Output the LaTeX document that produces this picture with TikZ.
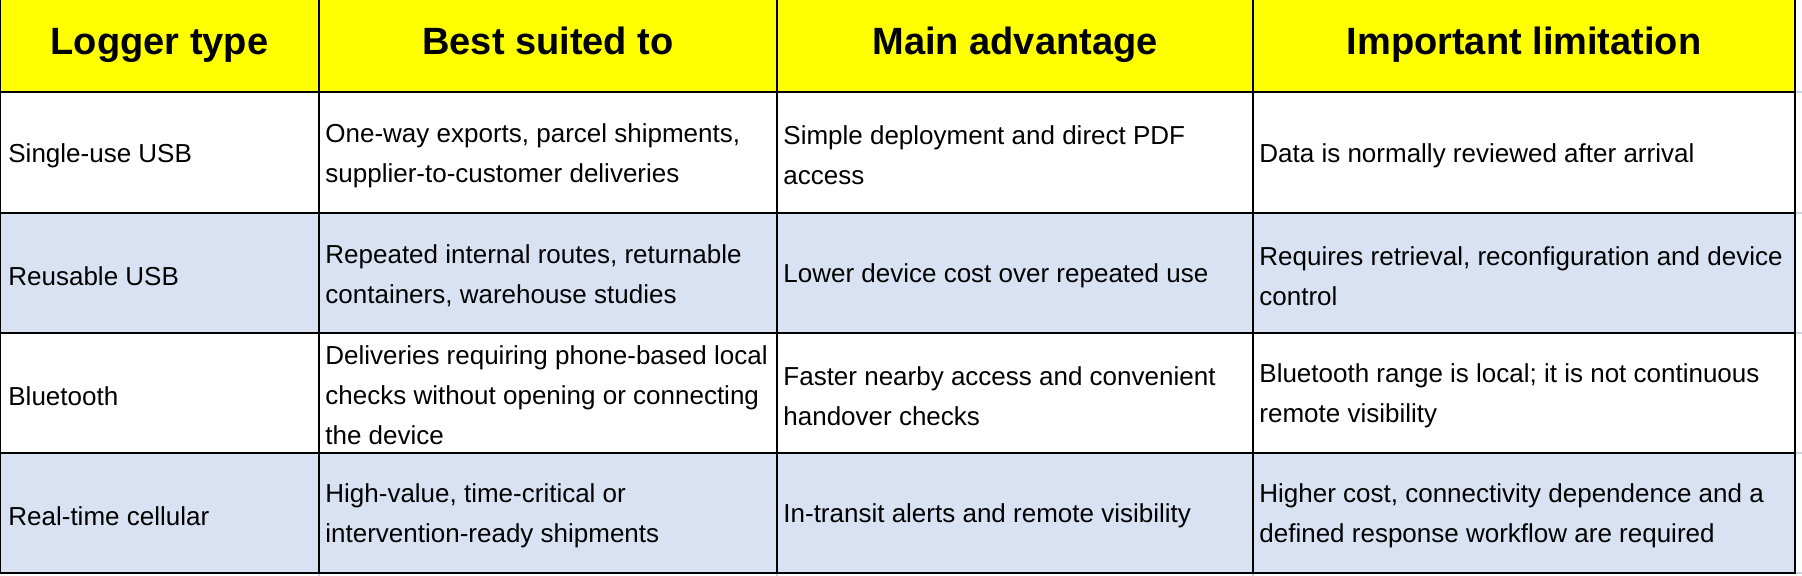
\documentclass[tikz,border=0pt]{standalone}
\usepackage{fontspec}
\setmainfont{Liberation Sans}
\definecolor{hdrfill}{HTML}{FFFF00}
\definecolor{bandfill}{HTML}{D9E2F3}
\definecolor{xlgrid}{HTML}{C9D3E6}
\begin{document}
\begin{tikzpicture}[x=0.5pt,y=-0.5pt,
  cellbox/.style={inner sep=0pt, outer sep=0pt, anchor=north west, draw=none},
  hdrcell/.style={cellbox, fill=hdrfill, minimum height=46pt},
  whitecell/.style={cellbox, fill=white},
  bandcell/.style={cellbox, fill=bandfill},
  rowA/.style={minimum height=60.5pt},
  rowB/.style={minimum height=60pt},
  colA/.style={minimum width=159.5pt},
  colB/.style={minimum width=229pt},
  colC/.style={minimum width=238pt},
  colD/.style={minimum width=271pt},
  hdrtext/.style={font=\fontsize{19}{22}\selectfont\bfseries, inner sep=0pt, anchor=base},
  bodytext/.style={font=\fontsize{13}{20}\selectfont, align=left, inner sep=0pt, anchor=west},
  tableline/.style={line width=1.25pt, black, line cap=rect},
  xlline/.style={line width=0.75pt, xlgrid}
]
\useasboundingbox[fill=white] (0,0) rectangle (1802,576);

% header cells
\node[hdrcell, colA] (h1) at (0,0) {};
\node[hdrcell, colB] (h2) at (319,0) {};
\node[hdrcell, colC] (h3) at (777,0) {};
\node[hdrcell, colD] (h4) at (1253,0) {};
% row 1
\node[whitecell, rowA, colA] (r11) at (0,92) {};
\node[whitecell, rowA, colB] (r12) at (319,92) {};
\node[whitecell, rowA, colC] (r13) at (777,92) {};
\node[whitecell, rowA, colD] (r14) at (1253,92) {};
% row 2
\node[bandcell, rowB, colA] (r21) at (0,213) {};
\node[bandcell, rowB, colB] (r22) at (319,213) {};
\node[bandcell, rowB, colC] (r23) at (777,213) {};
\node[bandcell, rowB, colD] (r24) at (1253,213) {};
% row 3
\node[whitecell, rowB, colA] (r31) at (0,333) {};
\node[whitecell, rowB, colB] (r32) at (319,333) {};
\node[whitecell, rowB, colC] (r33) at (777,333) {};
\node[whitecell, rowB, colD] (r34) at (1253,333) {};
% row 4
\node[bandcell, rowB, colA] (r41) at (0,453) {};
\node[bandcell, rowB, colB] (r42) at (319,453) {};
\node[bandcell, rowB, colC] (r43) at (777,453) {};
\node[bandcell, rowB, colD] (r44) at (1253,453) {};

% spreadsheet gridlines outside the table
\draw[xlline] (h4.south east) -- ++(10,0);
\draw[xlline] (r14.south east) -- ++(10,0);
\draw[xlline] (r24.south east) -- ++(10,0);
\draw[xlline] (r34.south east) -- ++(10,0);
\draw[xlline] (r44.south east) -- ++(10,0);
\draw[xlline] (r42.south west) -- ++(0,6);
\draw[xlline] (r43.south west) -- ++(0,6);
\draw[xlline] (r44.south west) -- ++(0,6);

% table rules
\draw[tableline] (h1.south west) -- (h4.south east);
\draw[tableline] (r11.south west) -- (r14.south east);
\draw[tableline] (r21.south west) -- (r24.south east);
\draw[tableline] (r31.south west) -- (r34.south east);
\draw[tableline] (r41.south west) -- (r44.south east);
\draw[tableline] (h1.north west) -- (r41.south west);
\draw[tableline] (h2.north west) -- (r42.south west);
\draw[tableline] (h3.north west) -- (r43.south west);
\draw[tableline] (h4.north west) -- (r44.south west);
\draw[tableline] (h4.north east) -- (r44.south east);

% header texts (common baseline)
\node[hdrtext] (th1) at (h1.north |- 0,55) {Logger type};
\node[hdrtext] (th2) at (h2.north |- 0,55) {Best suited to};
\node[hdrtext] (th3) at (h3.north |- 0,55) {Main advantage};
\node[hdrtext] (th4) at (h4.north |- 0,55) {Important limitation};

% body texts
\node[bodytext] (t11) at ([xshift=4pt,yshift=-1.5pt]r11.west) {Single-use USB};
\node[bodytext] (t12) at ([xshift=3pt,yshift=-1.5pt]r12.west) {One-way exports, parcel shipments,\\supplier-to-customer deliveries};
\node[bodytext] (t13) at ([xshift=3pt,yshift=-1.5pt]r13.west) {Simple deployment and direct PDF\\access};
\node[bodytext] (t14) at ([xshift=3pt,yshift=-1.5pt]r14.west) {Data is normally reviewed after arrival};

\node[bodytext] (t21) at ([xshift=4pt,yshift=-1.5pt]r21.west) {Reusable USB};
\node[bodytext] (t22) at ([xshift=3pt,yshift=-1.5pt]r22.west) {Repeated internal routes, returnable\\containers, warehouse studies};
\node[bodytext] (t23) at ([xshift=3pt,yshift=-1.5pt]r23.west) {Lower device cost over repeated use};
\node[bodytext] (t24) at ([xshift=3pt,yshift=-1.5pt]r24.west) {Requires retrieval, reconfiguration and device\\control};

\node[bodytext] (t31) at ([xshift=4pt,yshift=-1.5pt]r31.west) {Bluetooth};
\node[bodytext] (t32) at ([xshift=3pt,yshift=-1pt]r32.west) {Deliveries requiring phone-based local\\checks without opening or connecting\\the device};
\node[bodytext] (t33) at ([xshift=3pt,yshift=-1.5pt]r33.west) {Faster nearby access and convenient\\handover checks};
\node[bodytext] (t34) at ([xshift=3pt,yshift=-1.5pt]r34.west) {Bluetooth range is local; it is not continuous\\remote visibility};

\node[bodytext] (t41) at ([xshift=4pt,yshift=-1.5pt]r41.west) {Real-time cellular};
\node[bodytext] (t42) at ([xshift=3pt,yshift=-1.5pt]r42.west) {High-value, time-critical or\\intervention-ready shipments};
\node[bodytext] (t43) at ([xshift=3pt,yshift=-1.5pt]r43.west) {In-transit alerts and remote visibility};
\node[bodytext] (t44) at ([xshift=3pt,yshift=-1.5pt]r44.west) {Higher cost, connectivity dependence and a\\defined response workflow are required};
\end{tikzpicture}
\end{document}
